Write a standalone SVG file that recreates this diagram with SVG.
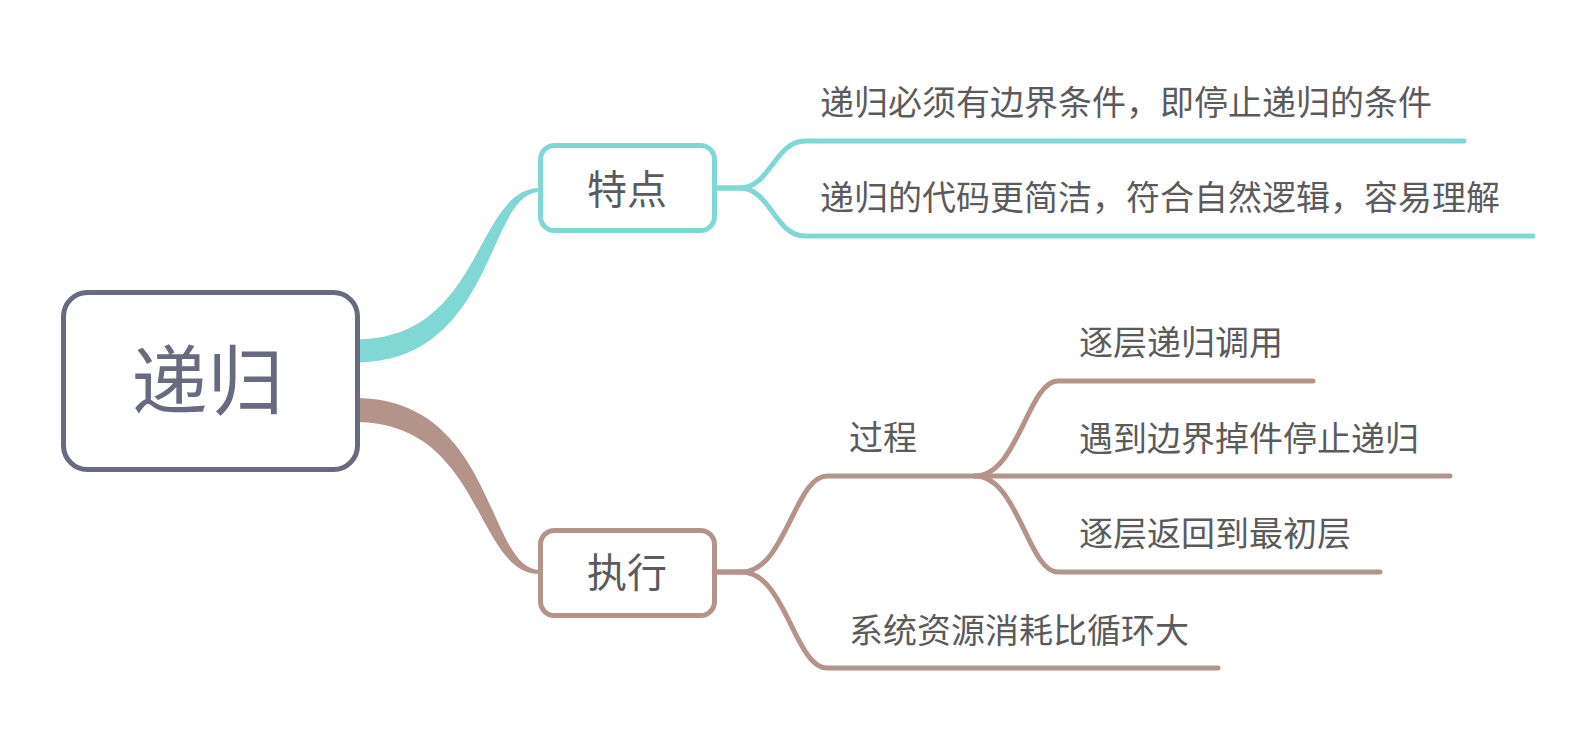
<svg xmlns="http://www.w3.org/2000/svg" width="1594" height="732" viewBox="0 0 1594 732">
<style>
.t{font-family:"Noto Sans CJK SC","Noto Sans",sans-serif;fill:#5b5b5b;font-size:34px}
.lt{fill:none;stroke:#80d7d4;stroke-width:5;stroke-linecap:round;stroke-linejoin:round}
.lb{fill:none;stroke:#b4948a;stroke-width:5;stroke-linecap:round;stroke-linejoin:round}
</style>
<rect width="1594" height="732" fill="#ffffff"/>
<g id="connectors">
<path d="M355,339.5 C484,339.5 474,188 540,188 L540,192 C486,192 496,362.5 355,362.5 Z" fill="#80d7d4"/>
<path d="M355,398 C496,398 486,570 540,570 L540,574 C474,574 484,422 355,422 Z" fill="#b4948a"/>
<path class="lt" d="M717,188 L740,188 C770,188 775,141 805,141 L1464,141"/>
<path class="lt" d="M717,188 L740,188 C770,188 775,236 805,236 L1533,236"/>
<path class="lb" d="M717,572 L742,572 C785,572 795,476 827,476 L1450,476"/>
<path class="lb" d="M717,572 L742,572 C785,572 795,668 827,668 L1218,668"/>
<path class="lb" d="M975,476 C1018,476 1028,381 1058,381 L1313,381"/>
<path class="lb" d="M975,476 C1018,476 1028,572 1058,572 L1380,572"/>
</g>
<g id="root">
<rect x="63.5" y="292.5" width="294" height="177" rx="24" fill="#ffffff" stroke="#686b80" stroke-width="5"/>
<text x="207.5" y="409" text-anchor="middle" class="t" style="font-size:76px;fill:#686b80">递归</text>
</g>
<g id="tedian">
<rect x="540.5" y="145.5" width="174" height="85" rx="14" fill="#ffffff" stroke="#80d7d4" stroke-width="5"/>
<text x="627" y="204" text-anchor="middle" class="t" style="font-size:40px">特点</text>
</g>
<g id="tedian-1"><text x="820" y="114.6" class="t">递归必须有边界条件，即停止递归的条件</text></g>
<g id="tedian-2"><text x="820" y="209.6" class="t">递归的代码更简洁，符合自然逻辑，容易理解</text></g>
<g id="zhixing">
<rect x="540.5" y="530.5" width="174" height="85" rx="14" fill="#ffffff" stroke="#b4948a" stroke-width="5"/>
<text x="627" y="586.5" text-anchor="middle" class="t" style="font-size:40px">执行</text>
</g>
<g id="guocheng"><text x="849" y="450.4" class="t">过程</text></g>
<g id="guocheng-1"><text x="1079" y="355.4" class="t">逐层递归调用</text></g>
<g id="guocheng-2"><text x="1079" y="451" class="t">遇到边界掉件停止递归</text></g>
<g id="guocheng-3"><text x="1079" y="546.4" class="t">逐层返回到最初层</text></g>
<g id="xitong"><text x="849" y="643" class="t">系统资源消耗比循环大</text></g>
</svg>
